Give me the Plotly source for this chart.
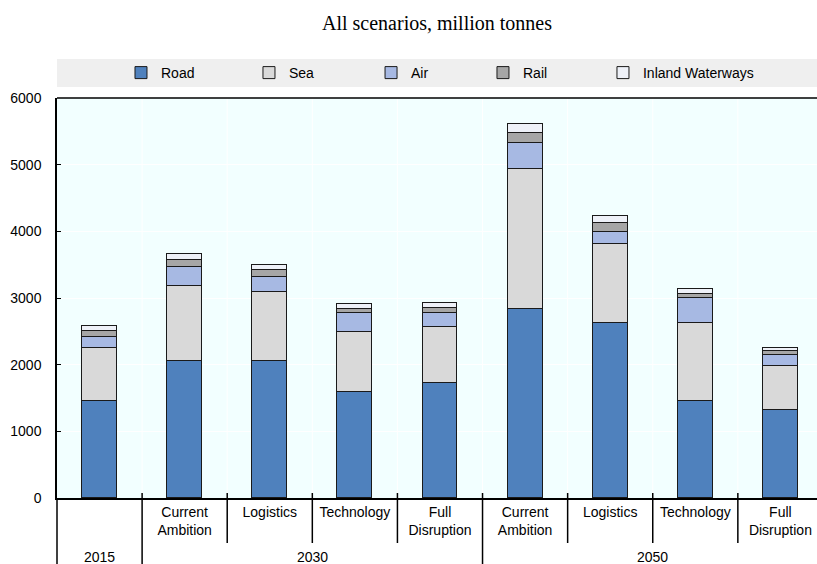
import plotly.graph_objects as go

# ---- data ----
years = ["2015", "2030", "2030", "2030", "2030", "2050", "2050", "2050", "2050"]
scenarios = ["", "Current<br>Ambition", "Logistics", "Technology", "Full<br>Disruption",
             "Current<br>Ambition", "Logistics", "Technology", "Full<br>Disruption"]
road = [1455, 2055, 2050, 1585, 1720, 2830, 2630, 1460, 1320]
sea = [800, 1125, 1035, 900, 840, 2100, 1180, 1165, 660]
air = [165, 290, 230, 285, 210, 400, 180, 380, 170]
rail = [80, 100, 100, 65, 75, 140, 130, 55, 60]
inland = [80, 85, 85, 70, 75, 140, 105, 75, 45]
y_ticks = [0, 1000, 2000, 3000, 4000, 5000, 6000]

series_names = ["Road", "Sea", "Air", "Rail", "Inland Waterways"]
series_values = [road, sea, air, rail, inland]
series_colors = ["#4F81BD", "#D9D9D9", "#A7B9E3", "#A6A6A6", "#EEF1F8"]
# legend entry positions (fraction of plot width)
legend_x = [0.0842, 0.2526, 0.4132, 0.5605, 0.7184]

n = len(scenarios)
xpos = list(range(n))
x_range = [-0.5, 8.43]
FONT = "Liberation Sans, Arial, sans-serif"

fig = go.Figure()
for k, (name, vals, col) in enumerate(zip(series_names, series_values, series_colors)):
    fig.add_trace(go.Bar(
        x=xpos, y=vals, name=name, width=0.41,
        legend="legend" if k == 0 else f"legend{k + 1}",
        marker=dict(color=col, line=dict(color="#1a1a1a", width=1)),
    ))

def to_frac(v):
    return (v - x_range[0]) / (x_range[1] - x_range[0])

shapes = []
# legend band
shapes.append(dict(type="rect", xref="paper", yref="paper", x0=0, x1=1,
                   y0=1.0275, y1=1.0975, fillcolor="#EFEFEF", line=dict(width=0),
                   layer="below"))
# category separators
for i in range(n - 1):
    b = i + 0.5
    group_break = years[i] != years[i + 1]
    shapes.append(dict(type="line", xref="x", yref="paper", x0=b, x1=b, y0=0, y1=1,
                       line=dict(color="white", width=1), layer="below"))
    shapes.append(dict(type="line", xref="x domain", yref="paper",
                       x0=to_frac(b), x1=to_frac(b), y0=0.0125,
                       y1=-0.17 if group_break else -0.1125,
                       line=dict(color="black", width=1.5), layer="above"))
# left axis extension below
shapes.append(dict(type="line", xref="paper", yref="paper", x0=0, x1=0, y0=0, y1=-0.17,
                   line=dict(color="black", width=1.5), layer="above"))
# top frame line
shapes.append(dict(type="line", xref="paper", yref="paper", x0=0, x1=1, y0=1, y1=1,
                   line=dict(color="black", width=1.5), layer="above"))

# year group labels
annotations = []
groups = []
for i, yv in enumerate(years):
    if groups and groups[-1][0] == yv:
        groups[-1][1].append(i)
    else:
        groups.append((yv, [i]))
for yv, idx in groups:
    annotations.append(dict(x=sum(idx) / len(idx), xref="x", y=0, yref="paper",
                            yshift=-59, yanchor="middle", xanchor="center",
                            text=yv, showarrow=False,
                            font=dict(family=FONT, size=14, color="black")))

legend_common = dict(orientation="h", xanchor="left", y=1.0625, yref="paper",
                     yanchor="middle", bgcolor="rgba(0,0,0,0)",
                     font=dict(family=FONT, size=14, color="black"))
legends = {}
for k, lx in enumerate(legend_x):
    key = "legend" if k == 0 else f"legend{k + 1}"
    legends[key] = dict(legend_common, x=lx)

fig.update_layout(
    width=817, height=564,
    margin=dict(l=57, r=0, t=98, b=66, autoexpand=False),
    barmode="stack",
    paper_bgcolor="white",
    plot_bgcolor="#F2FFFF",
    title=dict(text="All scenarios, million tonnes", x=0.5, xref="paper",
               xanchor="center", y=1 - 23 / 564, yref="container", yanchor="middle",
               font=dict(family="Liberation Serif, Times New Roman, serif", size=20,
                         color="black")),
    shapes=shapes,
    annotations=annotations,
    bargap=0,
    showlegend=True,
    **legends,
)
fig.update_xaxes(range=x_range, tickmode="array", tickvals=xpos, ticktext=scenarios,
                 showgrid=False, zeroline=False, showline=True, linecolor="black",
                 linewidth=1.5, ticks="", ticklabelstandoff=0, automargin=False,
                 tickfont=dict(family=FONT, size=14, color="black"))
fig.update_yaxes(range=[0, 6000], tickmode="array", tickvals=y_ticks,
                 showgrid=True, gridcolor="white", gridwidth=1, zeroline=False,
                 showline=True, linecolor="black", linewidth=1.5,
                 ticks="inside", ticklen=4, tickcolor="black",
                 ticklabelstandoff=11, automargin=False,
                 tickfont=dict(family=FONT, size=14, color="black"))

fig.write_html(
    "out.html",
    config={"displayModeBar": False},
    post_script="document.body.style.margin='0';document.body.style.overflow='hidden';",
)
